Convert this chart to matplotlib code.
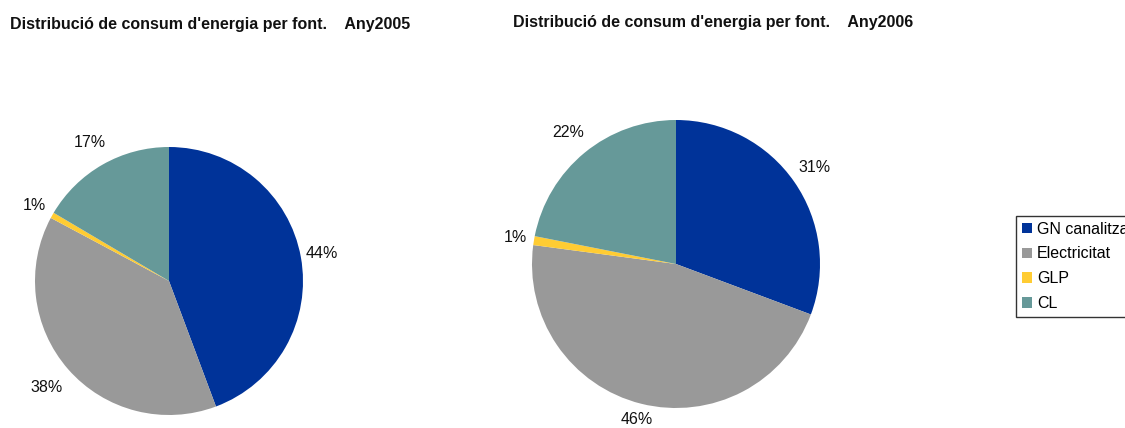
import matplotlib
matplotlib.use("Agg")
import matplotlib.pyplot as plt
import numpy as np

plt.rcParams['font.family'] = ['Liberation Sans', 'DejaVu Sans']

categories = ["GN canalitzat", "Electricitat", "GLP", "CL"]
values_2005 = [44.3, 38.5, 0.7, 16.5]
values_2006 = [30.7, 46.4, 1.0, 21.9]
labels_2005 = ["44%", "38%", "1%", "17%"]
labels_2006 = ["31%", "46%", "1%", "22%"]
colors = ["#003399", "#999999", "#FFCC33", "#669999"]
titles = ["Distribució de consum d'energia per font.    Any2005",
          "Distribució de consum d'energia per font.    Any2006"]

W, H = 1125, 428
fig = plt.figure(figsize=(W / 100, H / 100), dpi=100)


def add_pie(cx, cy, r, vals, labs, ldists):
    ax = fig.add_axes([(cx - r) / W, (H - cy - r) / H, 2 * r / W, 2 * r / H])
    wedges, texts = ax.pie(vals, labels=labs, colors=colors, startangle=90,
                           counterclock=False, labeldistance=1.15,
                           wedgeprops=dict(linewidth=0),
                           textprops=dict(fontsize=11.5, color="#111111"))
    for w, t, d in zip(wedges, texts, ldists):
        ang = np.deg2rad((w.theta1 + w.theta2) / 2)
        t.set_position((d * np.cos(ang), d * np.sin(ang)))
        t.set_horizontalalignment("center")
        t.set_verticalalignment("center")
    ax.set_xlim(-1, 1)
    ax.set_ylim(-1, 1)
    ax.set_aspect("equal")
    ax.axis("off")
    return wedges


w1 = add_pie(169, 281, 134, values_2005, labels_2005, [1.16, 1.21, 1.15, 1.19])
w2 = add_pie(676, 264, 144, values_2006, labels_2006, [1.17, 1.11, 1.13, 1.18])

fig.text(10 / W, 1 - 25 / H, titles[0], fontsize=11.5, fontweight="bold",
         ha="left", va="center", color="#111111")
fig.text(513 / W, 1 - 22 / H, titles[1], fontsize=11.5, fontweight="bold",
         ha="left", va="center", color="#111111")

leg = fig.legend(w1, categories, loc="upper left",
                 bbox_to_anchor=(1016 / W, 1 - 216 / H),
                 fontsize=11.5, frameon=True, fancybox=False, shadow=False,
                 handlelength=0.65, handleheight=0.65, handletextpad=0.3,
                 labelspacing=0.62, borderpad=0.35, borderaxespad=0)
leg.get_frame().set_edgecolor("black")
leg.get_frame().set_linewidth(1.0)

fig.savefig("out.png", dpi=100)
